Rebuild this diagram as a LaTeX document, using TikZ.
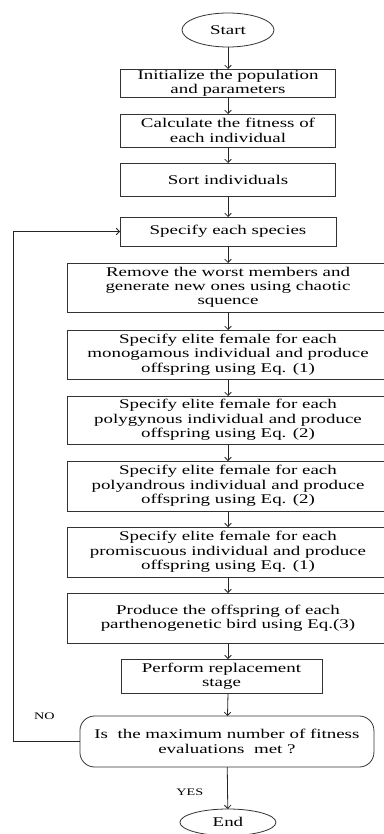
\documentclass[tikz,border=0pt]{standalone}
\usepackage{fontspec}
\setmainfont{Liberation Serif}[FakeStretch=1.42]
\usetikzlibrary{shapes.geometric, arrows.meta}
\usetikzlibrary{positioning}
\tikzstyle{startstop} = [ellipse, draw=black!80, line width=0.6pt, minimum width=69pt, minimum height=25.5pt, inner sep=0pt, outer sep=0pt]
\tikzstyle{process} = [rectangle, draw=black!80, line width=0.6pt, minimum width=161pt, minimum height=24.75pt, align=center, inner sep=0pt, outer sep=0pt]
\tikzstyle{wide} = [process, minimum width=241.5pt, minimum height=37.5pt]
\tikzstyle{decision} = [rectangle, rounded corners=11pt, draw=black!80, line width=0.6pt, minimum width=220.5pt, minimum height=38.25pt, align=center, inner sep=0pt, outer sep=0pt]
\tikzstyle{flow} = [line width=0.6pt, draw=black!85, -{Straight Barb[length=2.5pt,width=5pt]}]
\tikzstyle{lbl} = [font=\fontsize{7.5}{8}\selectfont, inner sep=0pt]

\begin{document}
\begin{tikzpicture}[node distance=12.75pt, font=\fontsize{10}{10.7}\selectfont]
  \useasboundingbox (0,0) rectangle (288pt,-625.5pt);

  \node (start) [startstop] at (171pt,-22.5pt) {Start};
  \node (init) [process, below=16.5pt of start, minimum height=21pt] {Initialize the population\\and parameters};
  \node (fit) [process, below=of init] {Calculate the fitness of\\each individual};
  \node (sort) [process, below=12pt of fit] {Sort individuals};
  \node (species) [process, below=15.75pt of sort, minimum height=21.75pt, minimum width=162pt] {Specify each species};
  \node (remove) [wide, below=of species, minimum height=36.75pt] {Remove the worst members and\\generate new ones using chaotic\\squence};
  \node (mono) [wide, below=13.5pt of remove, minimum height=36.75pt] {Specify elite female for each\\monogamous individual and produce\\offspring using Eq. (1)};
  \node (gyn) [wide, below=of mono, minimum height=36pt] {Specify elite female for each\\polygynous individual and produce\\offspring using Eq. (2)};
  \node (andr) [wide, below=of gyn] {Specify elite female for each\\polyandrous individual and produce\\offspring using Eq. (2)};
  \node (prom) [wide, below=12pt of andr] {Specify elite female for each\\promiscuous individual and produce\\offspring using Eq. (1)};
  \node (parth) [wide, below=12pt of prom] {Produce the offspring of each\\parthenogenetic bird using Eq.(3)};
  \node (repl) [process, below=12pt of parth, xshift=-4.9pt, minimum width=150.75pt, minimum height=25.5pt] {Perform replacement\\stage};
  \node (dec) [decision, below=17.25pt of repl, xshift=4.1pt] {Is\ \ the maximum number of fitness\\evaluations\ \ met ?};
  \node (stop) [startstop, below=31.5pt of dec, xshift=0.75pt, minimum width=72pt, minimum height=20pt] {End};

  \node (no) [lbl, above left=16pt and 18.75pt of dec.west] {NO};

  \draw [flow] (start) -- (init);
  \draw [flow] (init) -- (fit);
  \draw [flow] (fit) -- (sort);
  \draw [flow] (sort) -- (species);
  \draw [flow] (species) -- (remove);
  \draw [flow] (remove) -- (mono);
  \draw [flow] (mono) -- (gyn);
  \draw [flow] (gyn) -- (andr);
  \draw [flow] (andr) -- (prom);
  \draw [flow] (prom) -- (parth);
  \draw [flow] (parth) -- (parth |- repl.north);
  \draw [flow] (parth |- repl.south) -- (dec);
  \draw [flow] (dec) -- node (yes) [lbl, pos=0.6, left=18pt] {YES} (stop);
  \draw [flow] (dec.west) -- ++(-50.25pt,0) |- (species.west);
\end{tikzpicture}
\end{document}
